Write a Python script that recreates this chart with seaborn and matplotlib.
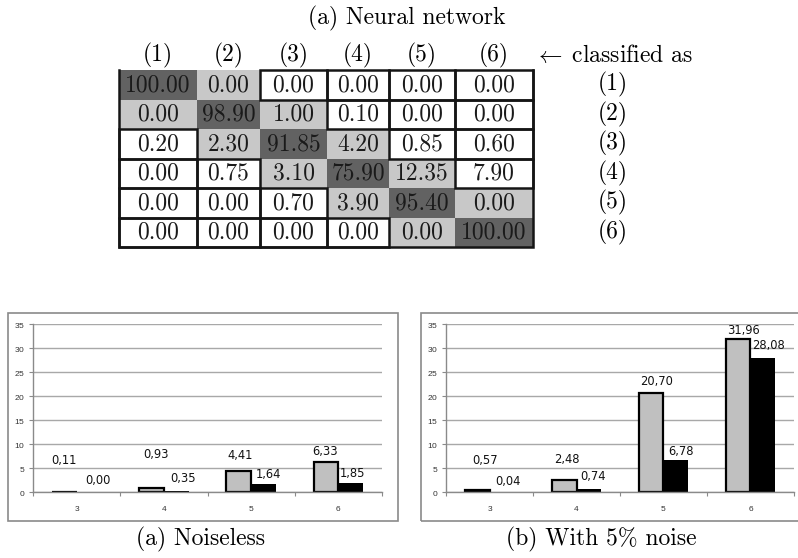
import numpy as np
import pandas as pd
import matplotlib
matplotlib.use("Agg")
import matplotlib.pyplot as plt
from matplotlib.colors import ListedColormap
from matplotlib.patches import Rectangle
import seaborn as sns

# ---------------- data ----------------
class_labels = ["(1)", "(2)", "(3)", "(4)", "(5)", "(6)"]
conf_row1 = [100.00, 0.00, 0.00, 0.00, 0.00, 0.00]
conf_row2 = [0.00, 98.90, 1.00, 0.10, 0.00, 0.00]
conf_row3 = [0.20, 2.30, 91.85, 4.20, 0.85, 0.60]
conf_row4 = [0.00, 0.75, 3.10, 75.90, 12.35, 7.90]
conf_row5 = [0.00, 0.00, 0.70, 3.90, 95.40, 0.00]
conf_row6 = [0.00, 0.00, 0.00, 0.00, 0.00, 100.00]

bar_categories = ["3", "4", "5", "6"]
noiseless_gray = [0.11, 0.93, 4.41, 6.33]
noiseless_black = [0.00, 0.35, 1.64, 1.85]
noise5_gray = [0.57, 2.48, 20.70, 31.96]
noise5_black = [0.04, 0.74, 6.78, 28.08]
y_ticks = [0, 5, 10, 15, 20, 25, 30, 35]

table_title = "(a) Neural network"
caption_a = "(a) Noiseless"
caption_b = "(b) With 5% noise"
classified_text = r"$\leftarrow\;$classified as"

# ---------------- style / layout ----------------
W, H = 798, 558
plt.rcParams["mathtext.fontset"] = "cm"
plt.rcParams["axes.formatter.use_mathtext"] = True
SERIF = "cmr10"
DARK = "#626262"
LIGHT = "#c8c8c8"
BAR_GRAY = "#c0c0c0"
FRAME = "#8a8a8a"
GRID = "#a8a8a8"

col_widths = [78, 63, 67, 62, 66, 78]  # pixel widths of table columns


def fig_rect(x0, y0, x1, y1):
    """pixel box (top-left origin) -> figure fraction [l, b, w, h]"""
    return [x0 / W, 1 - y1 / H, (x1 - x0) / W, (y1 - y0) / H]


fig = plt.figure(figsize=(W / 100, H / 100), dpi=100)
fig.patch.set_facecolor("white")

# ---------------- confusion table ----------------
conf = np.array([conf_row1, conf_row2, conf_row3, conf_row4, conf_row5, conf_row6])
n = conf.shape[0]
ii, jj = np.indices(conf.shape)
shade = np.where(ii == jj, 2, np.where(np.abs(ii - jj) == 1, 1, 0))

ax_t = fig.add_axes(fig_rect(119, 70, 533, 247))
x_edges = np.concatenate([[0], np.cumsum(col_widths)])
y_edges = np.arange(n + 1)
ax_t.pcolormesh(x_edges, y_edges, shade, cmap=ListedColormap(["white", LIGHT, DARK]),
                vmin=0, vmax=2, shading="flat")
ax_t.set_xlim(0, x_edges[-1])
ax_t.set_ylim(n, 0)
ax_t.axis("off")

lw_t = 1.8
for r in range(n):
    for c in range(n):
        if shade[r, c] == 0:
            ax_t.add_patch(Rectangle((x_edges[c], r), col_widths[c], 1, fill=False,
                                     edgecolor="#151515", lw=lw_t, clip_on=False, zorder=3))
        ax_t.text((x_edges[c] + x_edges[c + 1]) / 2, r + 0.52, f"{conf[r, c]:.2f}",
                  ha="center", va="center", fontsize=17, family=SERIF, color="#1a1a1a",
                  zorder=4)
# outer frame (left, bottom, right)
ax_t.plot([0, 0, x_edges[-1], x_edges[-1]], [0, n, n, 0], color="#151515", lw=lw_t,
          clip_on=False, zorder=3, solid_joinstyle="miter")

for c in range(n):
    ax_t.text((x_edges[c] + x_edges[c + 1]) / 2, -0.5, class_labels[c], ha="center",
              va="center", fontsize=17, family=SERIF, clip_on=False)
for r in range(n):
    ax_t.text(494, r + 0.5, class_labels[r], ha="center", va="center", fontsize=17,
              family=SERIF, clip_on=False)
ax_t.text(415, -0.5, classified_text, ha="left", va="center", fontsize=17,
          family=SERIF, clip_on=False)
fig.text(407 / W, 1 - 18 / H, table_title, ha="center", va="center", fontsize=17,
         family=SERIF)

# ---------------- bar charts ----------------
def draw_bars(box, frame_box, gray_vals, black_vals, dx_g, dy_g, dx_b, dy_b):
    fig.patches.append(Rectangle((frame_box[0] / W, 1 - frame_box[3] / H),
                                 (frame_box[2] - frame_box[0]) / W,
                                 (frame_box[3] - frame_box[1]) / H,
                                 transform=fig.transFigure, fill=False,
                                 edgecolor=FRAME, lw=1.2, zorder=0))
    ax = fig.add_axes(fig_rect(*box))
    df = pd.DataFrame({
        "cat": bar_categories * 2,
        "val": list(gray_vals) + list(black_vals),
        "series": ["a"] * len(bar_categories) + ["b"] * len(bar_categories),
    })
    sns.barplot(data=df, x="cat", y="val", hue="series", palette=[BAR_GRAY, "black"],
                width=0.57, saturation=1, legend=False, ax=ax, errorbar=None)
    ax.set_facecolor("none")
    for p in ax.containers[0]:
        p.set_edgecolor("black")
        p.set_linewidth(1.6)
    for p in ax.containers[1]:
        p.set_edgecolor("none")
    ax.set_xlim(-0.5, len(bar_categories) - 0.5)
    ax.set_ylim(0, 35)
    ax.set_yticks(y_ticks)
    ax.set_xlabel("")
    ax.set_ylabel("")
    ax.yaxis.grid(True, color=GRID, lw=1.0)
    ax.xaxis.grid(False)
    ax.set_axisbelow(True)
    for s in ["top", "right"]:
        ax.spines[s].set_visible(False)
    for s in ["left", "bottom"]:
        ax.spines[s].set_color(FRAME)
        ax.spines[s].set_linewidth(1.0)
    ax.tick_params(axis="y", length=3, width=0.8, color=FRAME, pad=2.4,
                   labelsize=6, labelcolor="#333333")
    ax.tick_params(axis="x", which="major", length=0, pad=10, labelsize=6,
                   labelcolor="#333333")
    ax.set_xticks(np.arange(len(bar_categories) + 1) - 0.5, minor=True)
    ax.tick_params(axis="x", which="minor", length=3, width=0.8, color=FRAME)
    for tl in ax.get_xticklabels() + ax.get_yticklabels():
        tl.set_family("Liberation Sans")

    for cont, dxs, dys in [(ax.containers[0], dx_g, dy_g), (ax.containers[1], dx_b, dy_b)]:
        for p, dx, dy in zip(cont, dxs, dys):
            v = p.get_height()
            ax.annotate(f"{v:.2f}".replace(".", ","),
                        xy=(p.get_x() + p.get_width() / 2, v), xytext=(dx, dy),
                        textcoords="offset pixels", ha="center", va="center",
                        fontsize=8.3, family="DejaVu Sans", color="#111111",
                        annotation_clip=False)
    return ax


draw_bars((33, 324.3, 382, 492.3), (8, 312.7, 398, 520.7),
          noiseless_gray, noiseless_black,
          [0, 5, 1, -1], [31, 33, 16, 10], [9, 7, 5, 2], [12, 12.6, 10, 9.5])
draw_bars((446, 324.3, 794, 492.3), (420.7, 312.7, 812, 520.7),
          noise5_gray, noise5_black,
          [8, 3, 5, 5], [29, 21, 11, 8], [6, 4, 5, 6], [11, 12, 8, 12.5])

fig.text(200 / W, 1 - 539 / H, caption_a, ha="center", va="center", fontsize=17,
         family=SERIF)
fig.text(601 / W, 1 - 539 / H, caption_b, ha="center", va="center", fontsize=17,
         family=SERIF)

fig.savefig("out.png", dpi=100, facecolor="white")
